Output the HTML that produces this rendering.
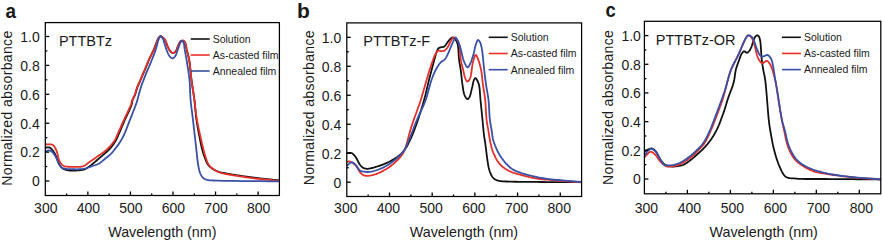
<!DOCTYPE html>
<html><head><meta charset="utf-8"><style>
html,body{margin:0;padding:0;background:#fff;}
body{width:882px;height:241px;overflow:hidden;position:relative;}
svg{position:absolute;left:0;top:0;}
text{font-family:"Liberation Sans", sans-serif;fill:#1a1a1a;}
</style></head><body>
<svg width="882" height="241" viewBox="0 0 882 241">
<clipPath id="clipa"><rect x="45.3" y="22.6" width="234.09999999999997" height="172.9"/></clipPath>
<g clip-path="url(#clipa)" fill="none" stroke-width="1.8" stroke-linejoin="round" stroke-linecap="round">
<path d="M45.30,148.00 L45.57,147.90 L45.85,147.80 L46.12,147.69 L46.39,147.58 L46.66,147.48 L46.94,147.39 L47.22,147.33 L47.50,147.30 L47.80,147.29 L48.11,147.30 L48.42,147.32 L48.74,147.36 L49.06,147.43 L49.37,147.53 L49.69,147.65 L50.00,147.80 L50.43,148.07 L50.87,148.41 L51.31,148.81 L51.75,149.25 L52.18,149.73 L52.60,150.24 L53.01,150.77 L53.40,151.30 L53.85,151.97 L54.28,152.69 L54.70,153.46 L55.10,154.26 L55.49,155.08 L55.87,155.90 L56.24,156.71 L56.60,157.50 L56.93,158.26 L57.23,159.03 L57.53,159.82 L57.81,160.60 L58.09,161.36 L58.38,162.11 L58.68,162.83 L59.00,163.50 L59.28,164.04 L59.55,164.57 L59.83,165.08 L60.12,165.57 L60.42,166.04 L60.73,166.49 L61.05,166.91 L61.40,167.30 L61.72,167.62 L62.05,167.91 L62.39,168.19 L62.75,168.44 L63.11,168.68 L63.49,168.90 L63.89,169.10 L64.30,169.30 L64.79,169.50 L65.29,169.68 L65.81,169.84 L66.35,169.98 L66.91,170.11 L67.49,170.22 L68.08,170.31 L68.70,170.40 L69.53,170.49 L70.42,170.54 L71.36,170.57 L72.32,170.58 L73.28,170.57 L74.23,170.55 L75.14,170.53 L76.00,170.50 L76.67,170.48 L77.33,170.45 L77.97,170.41 L78.60,170.37 L79.21,170.32 L79.81,170.25 L80.41,170.18 L81.00,170.10 L81.53,170.02 L82.05,169.94 L82.56,169.86 L83.06,169.76 L83.56,169.65 L84.05,169.53 L84.53,169.38 L85.00,169.20 L85.46,168.99 L85.91,168.75 L86.34,168.49 L86.77,168.21 L87.20,167.92 L87.63,167.62 L88.06,167.31 L88.50,167.00 L88.99,166.66 L89.47,166.32 L89.96,165.96 L90.44,165.60 L90.94,165.23 L91.44,164.84 L91.96,164.43 L92.50,164.00 L93.22,163.41 L93.98,162.77 L94.77,162.10 L95.57,161.41 L96.38,160.71 L97.18,160.02 L97.95,159.34 L98.70,158.70 L99.33,158.16 L99.94,157.65 L100.54,157.14 L101.13,156.64 L101.72,156.14 L102.31,155.63 L102.90,155.12 L103.50,154.60 L104.14,154.04 L104.79,153.48 L105.45,152.91 L106.10,152.34 L106.75,151.76 L107.39,151.17 L108.01,150.59 L108.60,150.00 L109.13,149.45 L109.64,148.91 L110.14,148.36 L110.63,147.81 L111.11,147.25 L111.58,146.68 L112.04,146.10 L112.50,145.50 L112.98,144.85 L113.46,144.18 L113.94,143.49 L114.40,142.80 L114.86,142.09 L115.29,141.39 L115.71,140.69 L116.10,140.00 L116.43,139.39 L116.72,138.81 L116.99,138.24 L117.24,137.67 L117.50,137.07 L117.77,136.44 L118.07,135.76 L118.40,135.00 L119.05,133.51 L119.78,131.82 L120.56,129.96 L121.39,128.00 L122.24,125.98 L123.11,123.94 L123.97,121.93 L124.80,120.00 L125.67,118.07 L126.60,116.06 L127.56,114.03 L128.51,112.01 L129.42,110.05 L130.25,108.20 L130.95,106.50 L131.50,105.00 L131.72,104.26 L131.88,103.58 L132.00,102.94 L132.09,102.34 L132.18,101.75 L132.29,101.18 L132.42,100.60 L132.60,100.00 L132.84,99.37 L133.12,98.76 L133.42,98.16 L133.75,97.56 L134.07,96.95 L134.40,96.33 L134.71,95.68 L135.00,95.00 L135.31,94.14 L135.60,93.24 L135.87,92.30 L136.13,91.35 L136.40,90.37 L136.67,89.40 L136.97,88.44 L137.30,87.50 L137.67,86.54 L138.08,85.58 L138.50,84.61 L138.94,83.65 L139.38,82.70 L139.81,81.77 L140.22,80.86 L140.60,80.00 L140.89,79.33 L141.16,78.68 L141.42,78.05 L141.68,77.44 L141.93,76.83 L142.18,76.23 L142.44,75.62 L142.70,75.00 L142.97,74.39 L143.23,73.79 L143.49,73.20 L143.76,72.61 L144.03,72.00 L144.31,71.37 L144.60,70.71 L144.90,70.00 L145.34,68.92 L145.81,67.74 L146.29,66.50 L146.79,65.21 L147.31,63.89 L147.83,62.57 L148.36,61.27 L148.90,60.00 L149.47,58.72 L150.08,57.41 L150.71,56.09 L151.34,54.78 L151.97,53.50 L152.56,52.26 L153.11,51.09 L153.60,50.00 L153.90,49.30 L154.17,48.65 L154.42,48.03 L154.65,47.43 L154.88,46.84 L155.11,46.24 L155.35,45.64 L155.60,45.00 L155.88,44.26 L156.16,43.48 L156.44,42.67 L156.72,41.87 L157.02,41.08 L157.32,40.33 L157.65,39.63 L158.00,39.00 L158.28,38.54 L158.58,38.08 L158.88,37.63 L159.19,37.21 L159.51,36.84 L159.83,36.53 L160.17,36.31 L160.50,36.20 L160.80,36.20 L161.12,36.28 L161.44,36.42 L161.77,36.62 L162.09,36.85 L162.41,37.10 L162.71,37.36 L163.00,37.60 L163.28,37.84 L163.55,38.10 L163.81,38.37 L164.05,38.65 L164.29,38.95 L164.53,39.28 L164.76,39.62 L165.00,40.00 L165.33,40.61 L165.65,41.31 L165.96,42.06 L166.26,42.86 L166.56,43.67 L166.87,44.48 L167.18,45.27 L167.50,46.00 L167.80,46.65 L168.09,47.30 L168.38,47.95 L168.67,48.58 L168.98,49.20 L169.30,49.78 L169.64,50.31 L170.00,50.80 L170.32,51.17 L170.65,51.55 L170.99,51.91 L171.35,52.24 L171.71,52.53 L172.08,52.76 L172.44,52.92 L172.80,53.00 L173.14,52.99 L173.48,52.92 L173.83,52.78 L174.18,52.60 L174.53,52.37 L174.86,52.11 L175.19,51.82 L175.50,51.50 L175.94,50.92 L176.35,50.18 L176.74,49.34 L177.11,48.44 L177.46,47.51 L177.81,46.60 L178.15,45.75 L178.50,45.00 L178.75,44.49 L178.99,43.98 L179.22,43.49 L179.44,43.01 L179.68,42.57 L179.93,42.16 L180.20,41.80 L180.50,41.50 L180.77,41.29 L181.06,41.10 L181.36,40.92 L181.68,40.78 L182.00,40.67 L182.31,40.60 L182.61,40.57 L182.90,40.60 L183.19,40.68 L183.47,40.82 L183.75,41.01 L184.02,41.24 L184.29,41.51 L184.54,41.82 L184.78,42.15 L185.00,42.50 L185.32,43.17 L185.59,43.97 L185.82,44.87 L186.01,45.84 L186.20,46.87 L186.38,47.92 L186.58,48.97 L186.80,50.00 L187.09,51.16 L187.39,52.32 L187.70,53.49 L188.02,54.69 L188.33,55.92 L188.64,57.21 L188.93,58.57 L189.20,60.00 L189.54,62.16 L189.85,64.51 L190.13,66.99 L190.39,69.56 L190.65,72.19 L190.91,74.84 L191.19,77.45 L191.50,80.00 L191.84,82.50 L192.20,85.00 L192.58,87.50 L192.96,90.00 L193.34,92.50 L193.72,95.00 L194.07,97.50 L194.40,100.00 L194.68,102.47 L194.93,104.91 L195.14,107.33 L195.35,109.75 L195.58,112.21 L195.83,114.73 L196.13,117.31 L196.50,120.00 L197.07,123.61 L197.74,127.58 L198.48,131.75 L199.27,135.95 L200.08,140.04 L200.87,143.85 L201.62,147.22 L202.30,150.00 L202.60,151.12 L202.89,152.11 L203.16,153.00 L203.43,153.83 L203.71,154.61 L203.99,155.38 L204.28,156.17 L204.60,157.00 L204.93,157.90 L205.26,158.81 L205.60,159.73 L205.94,160.65 L206.31,161.55 L206.71,162.41 L207.13,163.24 L207.60,164.00 L208.05,164.63 L208.51,165.23 L209.00,165.80 L209.52,166.34 L210.05,166.86 L210.61,167.36 L211.19,167.84 L211.80,168.30 L212.48,168.78 L213.20,169.24 L213.95,169.67 L214.72,170.08 L215.52,170.47 L216.33,170.83 L217.16,171.18 L218.00,171.50 L218.91,171.82 L219.83,172.09 L220.75,172.33 L221.70,172.55 L222.69,172.76 L223.73,172.96 L224.83,173.17 L226.00,173.40 L227.97,173.77 L230.16,174.16 L232.51,174.55 L234.97,174.94 L237.47,175.33 L239.97,175.70 L242.40,176.06 L244.70,176.40 L246.67,176.68 L248.59,176.95 L250.47,177.21 L252.33,177.46 L254.19,177.70 L256.08,177.94 L258.01,178.17 L260.00,178.40 L262.31,178.66 L264.69,178.90 L267.10,179.14 L269.55,179.37 L272.02,179.60 L274.50,179.83 L276.96,180.07 L279.40,180.30" stroke="#111111"/>
<path d="M45.30,144.50 L45.76,144.47 L46.22,144.43 L46.68,144.39 L47.15,144.35 L47.61,144.31 L48.07,144.29 L48.53,144.28 L49.00,144.30 L49.49,144.32 L50.00,144.34 L50.50,144.36 L51.01,144.40 L51.51,144.48 L52.00,144.59 L52.46,144.76 L52.90,145.00 L53.40,145.39 L53.86,145.88 L54.30,146.45 L54.71,147.08 L55.11,147.77 L55.48,148.50 L55.85,149.24 L56.20,150.00 L56.62,151.05 L57.00,152.22 L57.34,153.47 L57.66,154.77 L57.97,156.06 L58.29,157.31 L58.63,158.47 L59.00,159.50 L59.28,160.17 L59.55,160.81 L59.83,161.42 L60.11,162.00 L60.40,162.55 L60.71,163.06 L61.04,163.55 L61.40,164.00 L61.72,164.36 L62.04,164.69 L62.38,165.00 L62.73,165.29 L63.09,165.55 L63.48,165.79 L63.88,166.01 L64.30,166.20 L64.81,166.38 L65.35,166.50 L65.91,166.59 L66.50,166.66 L67.10,166.70 L67.72,166.73 L68.36,166.76 L69.00,166.80 L69.81,166.85 L70.66,166.88 L71.55,166.91 L72.45,166.92 L73.35,166.93 L74.26,166.92 L75.14,166.91 L76.00,166.90 L76.78,166.89 L77.58,166.90 L78.36,166.90 L79.14,166.89 L79.90,166.87 L80.64,166.82 L81.34,166.73 L82.00,166.60 L82.49,166.46 L82.96,166.30 L83.41,166.12 L83.84,165.93 L84.25,165.71 L84.67,165.49 L85.08,165.25 L85.50,165.00 L85.95,164.72 L86.39,164.41 L86.83,164.09 L87.26,163.75 L87.70,163.41 L88.13,163.07 L88.56,162.73 L89.00,162.40 L89.43,162.09 L89.85,161.78 L90.27,161.48 L90.69,161.18 L91.12,160.88 L91.56,160.56 L92.02,160.24 L92.50,159.90 L93.17,159.44 L93.88,158.95 L94.62,158.45 L95.39,157.93 L96.17,157.40 L96.95,156.87 L97.73,156.33 L98.50,155.80 L99.30,155.25 L100.11,154.69 L100.93,154.13 L101.76,153.56 L102.57,152.98 L103.37,152.40 L104.15,151.81 L104.90,151.20 L105.59,150.62 L106.25,150.04 L106.90,149.45 L107.54,148.85 L108.16,148.23 L108.78,147.61 L109.39,146.96 L110.00,146.30 L110.65,145.56 L111.32,144.80 L111.98,144.01 L112.63,143.20 L113.26,142.39 L113.85,141.58 L114.40,140.78 L114.90,140.00 L115.26,139.38 L115.56,138.80 L115.83,138.23 L116.08,137.66 L116.32,137.06 L116.58,136.43 L116.87,135.75 L117.20,135.00 L117.87,133.51 L118.63,131.82 L119.45,129.96 L120.33,128.00 L121.23,125.98 L122.13,123.94 L123.03,121.93 L123.90,120.00 L124.79,118.07 L125.73,116.06 L126.69,114.03 L127.64,112.01 L128.56,110.05 L129.40,108.20 L130.14,106.50 L130.75,105.00 L131.02,104.26 L131.24,103.57 L131.42,102.94 L131.59,102.34 L131.74,101.76 L131.90,101.18 L132.08,100.60 L132.30,100.00 L132.55,99.38 L132.83,98.77 L133.12,98.17 L133.42,97.56 L133.73,96.95 L134.03,96.33 L134.32,95.68 L134.60,95.00 L134.91,94.14 L135.21,93.24 L135.49,92.30 L135.77,91.34 L136.06,90.37 L136.35,89.40 L136.66,88.44 L137.00,87.50 L137.38,86.55 L137.78,85.58 L138.21,84.61 L138.65,83.65 L139.08,82.70 L139.51,81.77 L139.92,80.87 L140.30,80.00 L140.59,79.33 L140.86,78.68 L141.12,78.05 L141.38,77.44 L141.63,76.83 L141.88,76.23 L142.14,75.62 L142.40,75.00 L142.67,74.39 L142.93,73.79 L143.19,73.20 L143.46,72.61 L143.73,72.00 L144.01,71.37 L144.30,70.71 L144.60,70.00 L145.05,68.91 L145.52,67.74 L146.02,66.50 L146.53,65.21 L147.05,63.89 L147.59,62.57 L148.14,61.27 L148.70,60.00 L149.30,58.72 L149.95,57.41 L150.62,56.09 L151.29,54.78 L151.96,53.50 L152.59,52.26 L153.18,51.09 L153.70,50.00 L154.02,49.30 L154.31,48.65 L154.57,48.03 L154.83,47.43 L155.07,46.84 L155.31,46.25 L155.55,45.64 L155.80,45.00 L156.07,44.26 L156.33,43.48 L156.58,42.68 L156.83,41.87 L157.09,41.08 L157.37,40.33 L157.67,39.63 L158.00,39.00 L158.28,38.54 L158.57,38.08 L158.87,37.63 L159.18,37.21 L159.50,36.84 L159.83,36.53 L160.16,36.31 L160.50,36.20 L160.80,36.20 L161.12,36.28 L161.44,36.42 L161.77,36.62 L162.09,36.85 L162.41,37.10 L162.71,37.36 L163.00,37.60 L163.28,37.84 L163.55,38.10 L163.81,38.37 L164.05,38.65 L164.29,38.95 L164.53,39.28 L164.76,39.62 L165.00,40.00 L165.33,40.61 L165.65,41.31 L165.96,42.06 L166.26,42.86 L166.56,43.67 L166.87,44.48 L167.18,45.27 L167.50,46.00 L167.80,46.65 L168.09,47.30 L168.38,47.95 L168.67,48.58 L168.98,49.20 L169.30,49.78 L169.64,50.31 L170.00,50.80 L170.32,51.17 L170.65,51.55 L170.99,51.91 L171.35,52.24 L171.71,52.53 L172.08,52.76 L172.44,52.92 L172.80,53.00 L173.14,52.99 L173.48,52.92 L173.83,52.78 L174.18,52.60 L174.53,52.37 L174.86,52.11 L175.19,51.82 L175.50,51.50 L175.94,50.92 L176.35,50.18 L176.74,49.34 L177.11,48.44 L177.46,47.51 L177.81,46.60 L178.15,45.75 L178.50,45.00 L178.75,44.49 L178.99,43.98 L179.22,43.49 L179.44,43.01 L179.68,42.57 L179.93,42.16 L180.20,41.80 L180.50,41.50 L180.77,41.29 L181.06,41.10 L181.36,40.92 L181.68,40.78 L182.00,40.67 L182.31,40.60 L182.61,40.57 L182.90,40.60 L183.19,40.68 L183.47,40.82 L183.75,41.01 L184.02,41.24 L184.29,41.51 L184.54,41.82 L184.78,42.15 L185.00,42.50 L185.32,43.17 L185.59,43.97 L185.82,44.87 L186.01,45.84 L186.20,46.87 L186.38,47.92 L186.58,48.97 L186.80,50.00 L187.09,51.16 L187.39,52.32 L187.70,53.49 L188.02,54.69 L188.33,55.92 L188.64,57.21 L188.93,58.57 L189.20,60.00 L189.54,62.16 L189.85,64.51 L190.13,66.99 L190.39,69.56 L190.65,72.19 L190.91,74.84 L191.19,77.45 L191.50,80.00 L191.84,82.50 L192.19,85.00 L192.56,87.50 L192.93,90.00 L193.31,92.50 L193.68,95.00 L194.05,97.50 L194.40,100.00 L194.72,102.47 L195.01,104.91 L195.29,107.33 L195.56,109.76 L195.86,112.22 L196.18,114.73 L196.56,117.32 L197.00,120.00 L197.67,123.61 L198.47,127.58 L199.35,131.74 L200.28,135.95 L201.21,140.03 L202.10,143.84 L202.91,147.22 L203.60,150.00 L203.88,151.11 L204.13,152.10 L204.37,152.98 L204.59,153.80 L204.82,154.58 L205.06,155.36 L205.31,156.15 L205.60,157.00 L205.93,157.96 L206.26,158.96 L206.60,159.96 L206.96,160.97 L207.34,161.95 L207.76,162.90 L208.21,163.79 L208.70,164.60 L209.16,165.23 L209.64,165.82 L210.15,166.37 L210.68,166.89 L211.23,167.39 L211.80,167.87 L212.39,168.34 L213.00,168.80 L213.68,169.29 L214.38,169.77 L215.11,170.23 L215.86,170.67 L216.63,171.09 L217.41,171.49 L218.20,171.86 L219.00,172.20 L219.81,172.51 L220.61,172.77 L221.41,173.00 L222.23,173.20 L223.08,173.40 L223.99,173.59 L224.95,173.78 L226.00,174.00 L227.91,174.38 L230.08,174.76 L232.43,175.15 L234.90,175.54 L237.42,175.93 L239.94,176.31 L242.39,176.66 L244.70,177.00 L246.67,177.28 L248.59,177.56 L250.47,177.82 L252.33,178.07 L254.19,178.31 L256.08,178.54 L258.01,178.77 L260.00,179.00 L262.31,179.25 L264.69,179.48 L267.10,179.71 L269.55,179.93 L272.02,180.15 L274.50,180.36 L276.96,180.58 L279.40,180.80" stroke="#e6302a"/>
<path d="M45.30,152.00 L45.69,151.77 L46.07,151.51 L46.46,151.24 L46.85,150.97 L47.24,150.73 L47.62,150.52 L48.01,150.38 L48.40,150.30 L48.76,150.29 L49.13,150.34 L49.50,150.42 L49.87,150.54 L50.23,150.69 L50.59,150.87 L50.95,151.08 L51.30,151.30 L51.74,151.63 L52.17,152.01 L52.61,152.45 L53.03,152.92 L53.44,153.42 L53.84,153.94 L54.23,154.47 L54.60,155.00 L54.97,155.57 L55.33,156.18 L55.67,156.81 L56.00,157.45 L56.31,158.10 L56.62,158.74 L56.91,159.38 L57.20,160.00 L57.44,160.56 L57.67,161.12 L57.88,161.68 L58.08,162.23 L58.28,162.77 L58.50,163.30 L58.74,163.81 L59.00,164.30 L59.26,164.73 L59.53,165.15 L59.81,165.56 L60.10,165.96 L60.41,166.33 L60.72,166.69 L61.06,167.01 L61.40,167.30 L61.72,167.53 L62.04,167.74 L62.37,167.92 L62.71,168.08 L63.07,168.22 L63.45,168.36 L63.86,168.48 L64.30,168.60 L65.08,168.76 L65.95,168.89 L66.90,168.98 L67.90,169.05 L68.93,169.09 L69.97,169.13 L71.00,169.17 L72.00,169.20 L73.01,169.23 L74.05,169.26 L75.11,169.27 L76.16,169.28 L77.19,169.28 L78.19,169.26 L79.13,169.24 L80.00,169.20 L80.57,169.17 L81.10,169.14 L81.60,169.11 L82.09,169.07 L82.57,169.02 L83.04,168.96 L83.51,168.89 L84.00,168.80 L84.50,168.69 L85.00,168.56 L85.50,168.42 L85.99,168.27 L86.49,168.11 L86.99,167.94 L87.49,167.77 L88.00,167.60 L88.55,167.42 L89.09,167.23 L89.64,167.04 L90.19,166.84 L90.75,166.64 L91.32,166.43 L91.90,166.22 L92.50,166.00 L93.23,165.75 L93.99,165.50 L94.77,165.26 L95.57,165.01 L96.36,164.73 L97.16,164.43 L97.94,164.09 L98.70,163.70 L99.51,163.21 L100.32,162.65 L101.11,162.05 L101.90,161.42 L102.67,160.76 L103.45,160.10 L104.23,159.44 L105.00,158.80 L105.78,158.18 L106.57,157.56 L107.36,156.93 L108.15,156.31 L108.93,155.67 L109.68,155.03 L110.41,154.37 L111.10,153.70 L111.71,153.06 L112.29,152.40 L112.85,151.74 L113.39,151.06 L113.92,150.38 L114.44,149.69 L114.97,149.00 L115.50,148.30 L116.06,147.58 L116.62,146.85 L117.19,146.12 L117.75,145.38 L118.30,144.63 L118.85,143.87 L119.38,143.09 L119.90,142.30 L120.43,141.45 L120.94,140.61 L121.44,139.76 L121.93,138.89 L122.41,137.99 L122.90,137.05 L123.39,136.06 L123.90,135.00 L124.63,133.39 L125.37,131.65 L126.12,129.79 L126.88,127.85 L127.64,125.87 L128.40,123.88 L129.15,121.91 L129.90,120.00 L130.66,118.07 L131.46,116.07 L132.27,114.03 L133.07,112.00 L133.84,110.04 L134.56,108.19 L135.20,106.49 L135.75,105.00 L136.02,104.26 L136.25,103.60 L136.46,102.99 L136.65,102.41 L136.83,101.85 L137.01,101.28 L137.20,100.67 L137.40,100.00 L137.66,99.09 L137.92,98.12 L138.18,97.12 L138.44,96.08 L138.70,95.04 L138.96,94.01 L139.23,92.99 L139.50,92.00 L139.75,91.09 L140.01,90.18 L140.27,89.28 L140.53,88.39 L140.79,87.51 L141.05,86.65 L141.32,85.81 L141.60,85.00 L141.84,84.33 L142.09,83.68 L142.34,83.06 L142.59,82.44 L142.85,81.84 L143.10,81.23 L143.35,80.62 L143.60,80.00 L143.84,79.38 L144.08,78.75 L144.31,78.12 L144.54,77.50 L144.78,76.87 L145.01,76.25 L145.25,75.62 L145.50,75.00 L145.75,74.39 L145.99,73.79 L146.24,73.20 L146.49,72.61 L146.75,72.00 L147.02,71.37 L147.30,70.71 L147.60,70.00 L148.06,68.91 L148.56,67.74 L149.09,66.50 L149.63,65.22 L150.19,63.91 L150.74,62.59 L151.28,61.28 L151.80,60.00 L152.31,58.73 L152.83,57.43 L153.34,56.11 L153.86,54.80 L154.35,53.51 L154.81,52.27 L155.23,51.09 L155.60,50.00 L155.82,49.30 L156.02,48.65 L156.19,48.03 L156.35,47.43 L156.50,46.84 L156.66,46.24 L156.82,45.64 L157.00,45.00 L157.20,44.26 L157.40,43.47 L157.61,42.67 L157.81,41.86 L158.03,41.07 L158.26,40.32 L158.52,39.62 L158.80,39.00 L159.02,38.57 L159.26,38.13 L159.50,37.70 L159.76,37.30 L160.01,36.95 L160.28,36.67 L160.54,36.48 L160.80,36.40 L161.05,36.44 L161.30,36.58 L161.56,36.80 L161.83,37.08 L162.08,37.40 L162.33,37.76 L162.57,38.13 L162.80,38.50 L163.10,39.08 L163.38,39.75 L163.63,40.49 L163.86,41.27 L164.09,42.08 L164.32,42.90 L164.55,43.72 L164.80,44.50 L165.07,45.31 L165.33,46.13 L165.59,46.96 L165.86,47.80 L166.13,48.63 L166.41,49.44 L166.70,50.23 L167.00,51.00 L167.28,51.68 L167.57,52.36 L167.85,53.04 L168.15,53.70 L168.46,54.34 L168.79,54.94 L169.13,55.49 L169.50,56.00 L169.82,56.39 L170.15,56.78 L170.50,57.16 L170.85,57.52 L171.22,57.82 L171.58,58.06 L171.94,58.23 L172.30,58.30 L172.64,58.28 L172.99,58.18 L173.34,58.01 L173.69,57.78 L174.03,57.51 L174.37,57.20 L174.69,56.86 L175.00,56.50 L175.45,55.83 L175.87,55.00 L176.27,54.06 L176.64,53.04 L176.99,51.98 L177.34,50.93 L177.67,49.92 L178.00,49.00 L178.27,48.26 L178.52,47.52 L178.77,46.78 L179.00,46.06 L179.24,45.37 L179.48,44.70 L179.73,44.08 L180.00,43.50 L180.21,43.07 L180.43,42.62 L180.65,42.18 L180.87,41.76 L181.10,41.39 L181.33,41.09 L181.56,40.89 L181.80,40.80 L182.01,40.82 L182.23,40.92 L182.46,41.09 L182.68,41.30 L182.91,41.57 L183.12,41.86 L183.32,42.18 L183.50,42.50 L183.77,43.16 L183.97,43.95 L184.14,44.85 L184.27,45.82 L184.39,46.86 L184.51,47.92 L184.64,48.97 L184.80,50.00 L185.01,51.16 L185.22,52.32 L185.44,53.49 L185.67,54.69 L185.90,55.93 L186.13,57.22 L186.36,58.57 L186.60,60.00 L186.95,62.17 L187.34,64.51 L187.74,66.99 L188.14,69.56 L188.53,72.19 L188.89,74.83 L189.22,77.45 L189.50,80.00 L189.71,82.50 L189.87,85.00 L189.99,87.50 L190.08,90.00 L190.17,92.50 L190.28,95.00 L190.41,97.50 L190.60,100.00 L190.84,102.48 L191.10,104.91 L191.39,107.33 L191.70,109.75 L192.02,112.21 L192.35,114.72 L192.67,117.31 L193.00,120.00 L193.41,123.53 L193.84,127.31 L194.28,131.26 L194.73,135.26 L195.18,139.24 L195.61,143.08 L196.02,146.70 L196.40,150.00 L196.64,152.15 L196.86,154.21 L197.06,156.19 L197.26,158.09 L197.47,159.92 L197.69,161.68 L197.93,163.37 L198.20,165.00 L198.42,166.20 L198.63,167.37 L198.85,168.50 L199.08,169.59 L199.33,170.64 L199.61,171.64 L199.93,172.60 L200.30,173.50 L200.62,174.20 L200.97,174.88 L201.33,175.53 L201.71,176.15 L202.12,176.73 L202.55,177.27 L203.01,177.76 L203.50,178.20 L203.97,178.55 L204.47,178.84 L204.99,179.10 L205.53,179.33 L206.09,179.52 L206.65,179.70 L207.22,179.85 L207.80,180.00 L208.38,180.13 L208.92,180.23 L209.44,180.30 L209.99,180.35 L210.59,180.38 L211.27,180.42 L212.06,180.45 L213.00,180.50 L217.72,180.68 L224.34,180.82 L232.42,180.94 L241.53,181.04 L251.21,181.12 L261.05,181.21 L270.59,181.30 L279.40,181.40" stroke="#3850a6"/>
</g>
<rect x="45.3" y="22.6" width="234.10" height="172.90" fill="none" stroke="#000" stroke-width="1.25"/>
<line x1="66.58" y1="195.5" x2="66.58" y2="193.5" stroke="#000" stroke-width="1.3"/>
<line x1="87.86" y1="195.5" x2="87.86" y2="191.5" stroke="#000" stroke-width="1.3"/>
<line x1="109.15" y1="195.5" x2="109.15" y2="193.5" stroke="#000" stroke-width="1.3"/>
<line x1="130.43" y1="195.5" x2="130.43" y2="191.5" stroke="#000" stroke-width="1.3"/>
<line x1="151.71" y1="195.5" x2="151.71" y2="193.5" stroke="#000" stroke-width="1.3"/>
<line x1="172.99" y1="195.5" x2="172.99" y2="191.5" stroke="#000" stroke-width="1.3"/>
<line x1="194.27" y1="195.5" x2="194.27" y2="193.5" stroke="#000" stroke-width="1.3"/>
<line x1="215.55" y1="195.5" x2="215.55" y2="191.5" stroke="#000" stroke-width="1.3"/>
<line x1="236.84" y1="195.5" x2="236.84" y2="193.5" stroke="#000" stroke-width="1.3"/>
<line x1="258.12" y1="195.5" x2="258.12" y2="191.5" stroke="#000" stroke-width="1.3"/>
<line x1="45.3" y1="181.00" x2="49.3" y2="181.00" stroke="#000" stroke-width="1.3"/>
<line x1="45.3" y1="166.55" x2="47.3" y2="166.55" stroke="#000" stroke-width="1.3"/>
<line x1="45.3" y1="152.10" x2="49.3" y2="152.10" stroke="#000" stroke-width="1.3"/>
<line x1="45.3" y1="137.65" x2="47.3" y2="137.65" stroke="#000" stroke-width="1.3"/>
<line x1="45.3" y1="123.20" x2="49.3" y2="123.20" stroke="#000" stroke-width="1.3"/>
<line x1="45.3" y1="108.75" x2="47.3" y2="108.75" stroke="#000" stroke-width="1.3"/>
<line x1="45.3" y1="94.30" x2="49.3" y2="94.30" stroke="#000" stroke-width="1.3"/>
<line x1="45.3" y1="79.85" x2="47.3" y2="79.85" stroke="#000" stroke-width="1.3"/>
<line x1="45.3" y1="65.40" x2="49.3" y2="65.40" stroke="#000" stroke-width="1.3"/>
<line x1="45.3" y1="50.95" x2="47.3" y2="50.95" stroke="#000" stroke-width="1.3"/>
<line x1="45.3" y1="36.50" x2="49.3" y2="36.50" stroke="#000" stroke-width="1.3"/>
<text x="45.80" y="212.6" text-anchor="middle" font-size="14">300</text>
<text x="88.36" y="212.6" text-anchor="middle" font-size="14">400</text>
<text x="130.93" y="212.6" text-anchor="middle" font-size="14">500</text>
<text x="173.49" y="212.6" text-anchor="middle" font-size="14">600</text>
<text x="216.05" y="212.6" text-anchor="middle" font-size="14">700</text>
<text x="258.62" y="212.6" text-anchor="middle" font-size="14">800</text>
<text x="39.80" y="186.30" text-anchor="end" font-size="14">0</text>
<text x="39.80" y="157.40" text-anchor="end" font-size="14">0.2</text>
<text x="39.80" y="128.50" text-anchor="end" font-size="14">0.4</text>
<text x="39.80" y="99.60" text-anchor="end" font-size="14">0.6</text>
<text x="39.80" y="70.70" text-anchor="end" font-size="14">0.8</text>
<text x="39.80" y="41.80" text-anchor="end" font-size="14">1.0</text>
<text x="162.35" y="237.2" text-anchor="middle" font-size="14.3">Wavelength (nm)</text>
<text transform="translate(11.80,108.05) rotate(-90)" text-anchor="middle" font-size="14" letter-spacing="0.35">Normalized absorbance</text>
<text transform="translate(5.5,17.6) scale(0.9,1)" font-size="21" font-weight="bold">a</text>
<text x="58.9" y="46.4" font-size="14.5">PTTBTz</text>
<line x1="190.70" y1="39.00" x2="209.70" y2="39.00" stroke="#111111" stroke-width="1.6"/>
<text x="212.70" y="42.80" font-size="10.5">Solution</text>
<line x1="190.70" y1="55.00" x2="209.70" y2="55.00" stroke="#e6302a" stroke-width="1.6"/>
<text x="212.70" y="58.80" font-size="10.5">As-casted film</text>
<line x1="190.70" y1="71.00" x2="209.70" y2="71.00" stroke="#3850a6" stroke-width="1.6"/>
<text x="212.70" y="74.80" font-size="10.5">Annealed film</text>
<clipPath id="clipb"><rect x="346.8" y="22.9" width="234.8" height="173.6"/></clipPath>
<g clip-path="url(#clipb)" fill="none" stroke-width="1.8" stroke-linejoin="round" stroke-linecap="round">
<path d="M346.80,153.20 L347.39,153.15 L348.00,153.06 L348.60,152.97 L349.21,152.87 L349.81,152.81 L350.39,152.79 L350.96,152.85 L351.50,153.00 L352.07,153.28 L352.62,153.64 L353.15,154.09 L353.66,154.60 L354.16,155.17 L354.64,155.76 L355.12,156.38 L355.60,157.00 L356.17,157.82 L356.71,158.76 L357.23,159.76 L357.74,160.79 L358.25,161.82 L358.75,162.81 L359.27,163.71 L359.80,164.50 L360.19,165.00 L360.57,165.48 L360.95,165.93 L361.33,166.35 L361.72,166.74 L362.13,167.09 L362.55,167.41 L363.00,167.70 L363.45,167.94 L363.92,168.15 L364.41,168.33 L364.91,168.48 L365.42,168.60 L365.94,168.69 L366.47,168.76 L367.00,168.80 L367.60,168.81 L368.21,168.76 L368.83,168.68 L369.46,168.57 L370.10,168.44 L370.73,168.29 L371.37,168.15 L372.00,168.00 L372.64,167.85 L373.25,167.70 L373.86,167.54 L374.48,167.37 L375.11,167.18 L375.76,166.97 L376.46,166.75 L377.20,166.50 L378.45,166.08 L379.82,165.61 L381.28,165.09 L382.81,164.54 L384.36,163.95 L385.89,163.32 L387.39,162.67 L388.80,162.00 L390.12,161.32 L391.44,160.60 L392.75,159.84 L394.03,159.06 L395.28,158.26 L396.48,157.45 L397.63,156.62 L398.70,155.80 L399.54,155.12 L400.33,154.46 L401.07,153.80 L401.78,153.13 L402.47,152.42 L403.15,151.68 L403.82,150.88 L404.50,150.00 L405.37,148.76 L406.22,147.43 L407.05,146.00 L407.86,144.50 L408.66,142.93 L409.45,141.32 L410.23,139.67 L411.00,138.00 L411.91,135.95 L412.81,133.81 L413.69,131.60 L414.56,129.33 L415.42,127.01 L416.26,124.68 L417.09,122.33 L417.90,120.00 L418.73,117.56 L419.55,115.09 L420.35,112.60 L421.14,110.09 L421.91,107.57 L422.66,105.04 L423.39,102.52 L424.10,100.00 L424.78,97.46 L425.45,94.85 L426.09,92.21 L426.72,89.58 L427.32,87.00 L427.91,84.52 L428.46,82.17 L429.00,80.00 L429.36,78.58 L429.70,77.26 L430.02,76.00 L430.34,74.78 L430.65,73.60 L430.96,72.42 L431.28,71.23 L431.60,70.00 L431.93,68.74 L432.27,67.48 L432.61,66.21 L432.94,64.95 L433.28,63.69 L433.62,62.44 L433.96,61.21 L434.30,60.00 L434.61,58.87 L434.92,57.73 L435.22,56.58 L435.53,55.45 L435.84,54.35 L436.15,53.32 L436.47,52.36 L436.80,51.50 L437.01,50.99 L437.21,50.50 L437.40,50.03 L437.60,49.60 L437.81,49.19 L438.04,48.82 L438.30,48.49 L438.60,48.20 L438.91,47.98 L439.24,47.81 L439.60,47.67 L439.98,47.56 L440.37,47.47 L440.75,47.38 L441.13,47.29 L441.50,47.20 L441.83,47.12 L442.16,47.08 L442.48,47.05 L442.80,47.01 L443.12,46.97 L443.45,46.89 L443.77,46.78 L444.10,46.60 L444.65,46.16 L445.21,45.55 L445.78,44.83 L446.36,44.02 L446.92,43.19 L447.47,42.38 L448.00,41.64 L448.50,41.00 L448.84,40.60 L449.17,40.20 L449.50,39.83 L449.81,39.47 L450.12,39.13 L450.42,38.82 L450.71,38.54 L451.00,38.30 L451.18,38.15 L451.36,38.01 L451.53,37.88 L451.69,37.76 L451.86,37.66 L452.03,37.58 L452.21,37.52 L452.40,37.50 L452.64,37.51 L452.90,37.56 L453.16,37.65 L453.43,37.76 L453.71,37.91 L453.98,38.08 L454.24,38.28 L454.50,38.50 L454.89,38.89 L455.29,39.34 L455.68,39.85 L456.07,40.43 L456.43,41.07 L456.78,41.76 L457.11,42.50 L457.40,43.30 L457.81,44.91 L458.11,46.83 L458.33,48.97 L458.49,51.25 L458.62,53.59 L458.75,55.88 L458.90,58.05 L459.10,60.00 L459.29,61.36 L459.49,62.64 L459.69,63.85 L459.89,65.04 L460.10,66.22 L460.30,67.42 L460.50,68.67 L460.70,70.00 L460.93,71.74 L461.15,73.58 L461.36,75.50 L461.57,77.45 L461.78,79.40 L462.01,81.31 L462.24,83.16 L462.50,84.90 L462.71,86.29 L462.91,87.68 L463.10,89.06 L463.31,90.39 L463.54,91.67 L463.81,92.87 L464.13,93.99 L464.50,95.00 L464.80,95.68 L465.14,96.38 L465.51,97.05 L465.88,97.68 L466.27,98.23 L466.66,98.67 L467.04,98.97 L467.40,99.10 L467.67,99.07 L467.94,98.95 L468.22,98.74 L468.49,98.47 L468.75,98.15 L469.01,97.78 L469.26,97.40 L469.50,97.00 L469.89,96.19 L470.24,95.21 L470.57,94.10 L470.87,92.89 L471.16,91.63 L471.44,90.37 L471.72,89.15 L472.00,88.00 L472.26,86.94 L472.50,85.83 L472.73,84.71 L472.96,83.61 L473.19,82.55 L473.44,81.58 L473.70,80.72 L474.00,80.00 L474.17,79.65 L474.35,79.32 L474.54,79.00 L474.73,78.71 L474.92,78.46 L475.12,78.27 L475.31,78.14 L475.50,78.10 L475.69,78.15 L475.88,78.28 L476.07,78.48 L476.26,78.74 L476.45,79.04 L476.63,79.35 L476.82,79.68 L477.00,80.00 L477.27,80.48 L477.54,81.00 L477.81,81.55 L478.07,82.15 L478.32,82.79 L478.56,83.48 L478.79,84.22 L479.00,85.00 L479.30,86.46 L479.53,88.12 L479.72,89.92 L479.88,91.85 L480.02,93.85 L480.16,95.90 L480.32,97.97 L480.50,100.00 L480.74,102.38 L480.99,104.87 L481.24,107.42 L481.50,110.00 L481.76,112.58 L482.01,115.13 L482.26,117.62 L482.50,120.00 L482.70,122.00 L482.88,123.97 L483.06,125.92 L483.24,127.83 L483.42,129.69 L483.60,131.52 L483.80,133.29 L484.00,135.00 L484.18,136.33 L484.36,137.60 L484.54,138.81 L484.73,140.00 L484.92,141.19 L485.12,142.40 L485.31,143.67 L485.50,145.00 L485.73,146.76 L485.97,148.64 L486.20,150.59 L486.44,152.58 L486.68,154.55 L486.92,156.48 L487.16,158.31 L487.40,160.00 L487.58,161.19 L487.75,162.34 L487.92,163.45 L488.09,164.53 L488.27,165.56 L488.46,166.57 L488.67,167.55 L488.90,168.50 L489.10,169.26 L489.32,170.00 L489.54,170.72 L489.77,171.42 L490.01,172.10 L490.26,172.75 L490.52,173.39 L490.80,174.00 L491.04,174.51 L491.30,175.00 L491.55,175.48 L491.82,175.95 L492.10,176.40 L492.39,176.82 L492.69,177.22 L493.00,177.60 L493.28,177.91 L493.57,178.19 L493.87,178.46 L494.17,178.72 L494.49,178.96 L494.81,179.18 L495.15,179.40 L495.50,179.60 L495.89,179.80 L496.30,179.98 L496.72,180.15 L497.15,180.30 L497.60,180.44 L498.05,180.57 L498.52,180.69 L499.00,180.80 L499.55,180.92 L500.09,181.02 L500.63,181.10 L501.19,181.17 L501.79,181.23 L502.45,181.29 L503.18,181.34 L504.00,181.40 L506.22,181.52 L508.86,181.61 L511.87,181.69 L515.18,181.74 L518.71,181.78 L522.40,181.82 L526.19,181.86 L530.00,181.90 L535.61,181.96 L541.67,182.01 L548.07,182.05 L554.71,182.08 L561.48,182.11 L568.29,182.14 L575.03,182.17 L581.60,182.20" stroke="#111111"/>
<path d="M346.80,161.80 L347.17,161.75 L347.53,161.67 L347.90,161.59 L348.26,161.51 L348.63,161.45 L349.00,161.42 L349.39,161.43 L349.80,161.50 L350.46,161.71 L351.18,162.03 L351.92,162.43 L352.69,162.91 L353.46,163.45 L354.21,164.04 L354.93,164.66 L355.60,165.30 L356.31,166.13 L356.97,167.09 L357.60,168.15 L358.21,169.25 L358.80,170.33 L359.38,171.35 L359.98,172.26 L360.60,173.00 L361.02,173.41 L361.43,173.78 L361.84,174.11 L362.26,174.41 L362.68,174.67 L363.10,174.91 L363.54,175.11 L364.00,175.30 L364.46,175.46 L364.92,175.59 L365.38,175.68 L365.86,175.76 L366.36,175.80 L366.87,175.82 L367.42,175.82 L368.00,175.80 L368.97,175.72 L370.02,175.57 L371.15,175.36 L372.33,175.10 L373.54,174.79 L374.77,174.43 L376.00,174.03 L377.20,173.60 L378.62,173.03 L380.08,172.38 L381.56,171.67 L383.05,170.89 L384.54,170.07 L386.00,169.21 L387.43,168.32 L388.80,167.40 L390.14,166.44 L391.48,165.42 L392.80,164.36 L394.09,163.26 L395.34,162.15 L396.53,161.02 L397.66,159.90 L398.70,158.80 L399.50,157.93 L400.23,157.10 L400.92,156.29 L401.58,155.47 L402.20,154.60 L402.80,153.67 L403.40,152.65 L404.00,151.50 L404.93,149.34 L405.81,146.79 L406.66,143.97 L407.47,141.00 L408.24,138.00 L408.99,135.09 L409.71,132.38 L410.40,130.00 L410.85,128.59 L411.25,127.31 L411.64,126.12 L412.02,124.97 L412.40,123.83 L412.80,122.65 L413.23,121.39 L413.70,120.00 L414.48,117.78 L415.36,115.32 L416.31,112.70 L417.29,110.00 L418.27,107.31 L419.20,104.69 L420.06,102.22 L420.80,100.00 L421.24,98.59 L421.65,97.27 L422.01,96.01 L422.36,94.79 L422.69,93.60 L423.02,92.42 L423.35,91.23 L423.70,90.00 L424.06,88.75 L424.42,87.50 L424.78,86.25 L425.14,85.00 L425.51,83.75 L425.87,82.50 L426.23,81.25 L426.60,80.00 L426.97,78.75 L427.33,77.50 L427.70,76.25 L428.07,75.00 L428.44,73.75 L428.82,72.50 L429.21,71.25 L429.60,70.00 L430.01,68.73 L430.43,67.43 L430.86,66.12 L431.30,64.82 L431.73,63.54 L432.16,62.30 L432.59,61.12 L433.00,60.00 L433.30,59.18 L433.58,58.39 L433.86,57.63 L434.13,56.89 L434.42,56.17 L434.72,55.49 L435.04,54.83 L435.40,54.20 L435.74,53.65 L436.10,53.09 L436.48,52.53 L436.87,52.01 L437.27,51.53 L437.68,51.12 L438.09,50.80 L438.50,50.60 L438.80,50.54 L439.11,50.55 L439.42,50.62 L439.73,50.73 L440.05,50.85 L440.36,50.96 L440.68,51.05 L441.00,51.10 L441.33,51.12 L441.67,51.14 L442.00,51.16 L442.34,51.16 L442.68,51.14 L443.02,51.10 L443.36,51.02 L443.70,50.90 L444.15,50.68 L444.62,50.40 L445.08,50.06 L445.55,49.67 L446.01,49.25 L446.45,48.79 L446.89,48.30 L447.30,47.80 L447.78,47.11 L448.23,46.31 L448.66,45.45 L449.07,44.56 L449.47,43.65 L449.87,42.77 L450.28,41.94 L450.70,41.20 L451.04,40.63 L451.38,40.05 L451.72,39.46 L452.06,38.91 L452.41,38.41 L452.76,37.99 L453.12,37.68 L453.50,37.50 L453.80,37.45 L454.11,37.47 L454.43,37.55 L454.75,37.68 L455.07,37.84 L455.39,38.04 L455.70,38.26 L456.00,38.50 L456.42,38.89 L456.84,39.34 L457.24,39.85 L457.64,40.43 L458.01,41.06 L458.37,41.75 L458.70,42.50 L459.00,43.30 L459.42,44.91 L459.72,46.83 L459.92,48.97 L460.08,51.26 L460.21,53.59 L460.35,55.88 L460.54,58.05 L460.80,60.00 L461.06,61.39 L461.35,62.72 L461.65,64.01 L461.97,65.26 L462.29,66.47 L462.60,67.66 L462.91,68.84 L463.20,70.00 L463.43,71.01 L463.63,72.01 L463.83,73.01 L464.03,73.98 L464.23,74.93 L464.45,75.84 L464.71,76.70 L465.00,77.50 L465.26,78.13 L465.53,78.79 L465.82,79.45 L466.12,80.07 L466.43,80.62 L466.75,81.07 L467.07,81.37 L467.40,81.50 L467.71,81.45 L468.04,81.28 L468.38,80.99 L468.72,80.61 L469.06,80.15 L469.39,79.63 L469.71,79.08 L470.00,78.50 L470.52,77.05 L470.94,75.19 L471.30,73.02 L471.62,70.67 L471.92,68.28 L472.24,65.95 L472.59,63.82 L473.00,62.00 L473.31,60.86 L473.63,59.68 L473.96,58.50 L474.30,57.39 L474.65,56.41 L474.99,55.63 L475.35,55.11 L475.70,54.90 L475.98,54.99 L476.27,55.27 L476.56,55.71 L476.86,56.27 L477.15,56.92 L477.44,57.61 L477.72,58.32 L478.00,59.00 L478.43,60.09 L478.85,61.31 L479.27,62.63 L479.67,64.03 L480.06,65.49 L480.43,66.98 L480.78,68.50 L481.10,70.00 L481.42,71.75 L481.69,73.57 L481.93,75.44 L482.14,77.34 L482.34,79.27 L482.55,81.19 L482.76,83.11 L483.00,85.00 L483.27,86.86 L483.55,88.70 L483.84,90.53 L484.14,92.36 L484.43,94.21 L484.71,96.09 L484.97,98.02 L485.20,100.00 L485.42,102.41 L485.61,104.96 L485.76,107.59 L485.90,110.25 L486.04,112.88 L486.20,115.42 L486.38,117.81 L486.60,120.00 L486.79,121.42 L486.99,122.75 L487.20,124.01 L487.42,125.22 L487.64,126.40 L487.87,127.58 L488.09,128.77 L488.30,130.00 L488.50,131.25 L488.69,132.50 L488.87,133.75 L489.06,135.00 L489.25,136.26 L489.45,137.51 L489.66,138.75 L489.90,140.00 L490.16,141.27 L490.42,142.56 L490.70,143.86 L490.99,145.15 L491.30,146.43 L491.62,147.67 L491.95,148.86 L492.30,150.00 L492.60,150.90 L492.92,151.76 L493.24,152.59 L493.58,153.40 L493.92,154.19 L494.27,154.97 L494.63,155.74 L495.00,156.50 L495.35,157.20 L495.69,157.89 L496.05,158.57 L496.41,159.24 L496.78,159.90 L497.17,160.55 L497.57,161.18 L498.00,161.80 L498.44,162.41 L498.90,163.00 L499.38,163.58 L499.87,164.16 L500.38,164.71 L500.90,165.26 L501.44,165.79 L502.00,166.30 L502.60,166.82 L503.23,167.32 L503.88,167.81 L504.55,168.28 L505.22,168.73 L505.91,169.17 L506.61,169.60 L507.30,170.00 L507.98,170.38 L508.67,170.74 L509.37,171.08 L510.07,171.41 L510.79,171.72 L511.51,172.02 L512.25,172.32 L513.00,172.60 L513.81,172.89 L514.62,173.15 L515.43,173.39 L516.26,173.63 L517.12,173.86 L518.02,174.09 L518.98,174.34 L520.00,174.60 L521.67,175.04 L523.50,175.53 L525.45,176.04 L527.50,176.56 L529.60,177.08 L531.74,177.57 L533.88,178.01 L536.00,178.40 L538.25,178.75 L540.50,179.04 L542.78,179.29 L545.08,179.50 L547.43,179.70 L549.82,179.89 L552.28,180.09 L554.80,180.30 L557.92,180.56 L561.17,180.82 L564.50,181.07 L567.90,181.32 L571.34,181.56 L574.79,181.81 L578.22,182.05 L581.60,182.30" stroke="#e6302a"/>
<path d="M346.80,165.70 L347.43,165.23 L348.07,164.69 L348.71,164.13 L349.34,163.57 L349.98,163.08 L350.60,162.67 L351.21,162.40 L351.80,162.30 L352.30,162.36 L352.79,162.54 L353.26,162.82 L353.73,163.16 L354.20,163.57 L354.66,164.00 L355.13,164.45 L355.60,164.90 L356.22,165.56 L356.84,166.36 L357.47,167.24 L358.09,168.15 L358.71,169.04 L359.34,169.84 L359.97,170.52 L360.60,171.00 L361.02,171.21 L361.44,171.35 L361.86,171.44 L362.28,171.48 L362.70,171.51 L363.13,171.53 L363.56,171.55 L364.00,171.60 L364.47,171.67 L364.94,171.75 L365.40,171.83 L365.88,171.90 L366.37,171.96 L366.88,172.00 L367.42,172.02 L368.00,172.00 L368.97,171.92 L370.02,171.78 L371.15,171.59 L372.33,171.36 L373.54,171.08 L374.77,170.75 L375.99,170.39 L377.20,170.00 L378.62,169.48 L380.07,168.90 L381.56,168.26 L383.04,167.57 L384.53,166.83 L385.99,166.05 L387.42,165.24 L388.80,164.40 L390.14,163.52 L391.47,162.58 L392.79,161.59 L394.07,160.57 L395.32,159.53 L396.51,158.49 L397.64,157.48 L398.70,156.50 L399.48,155.77 L400.21,155.06 L400.90,154.38 L401.56,153.69 L402.19,152.99 L402.80,152.25 L403.40,151.46 L404.00,150.60 L404.70,149.48 L405.34,148.30 L405.96,147.06 L406.55,145.76 L407.14,144.40 L407.74,142.99 L408.35,141.52 L409.00,140.00 L409.92,137.81 L410.86,135.45 L411.83,132.97 L412.82,130.40 L413.82,127.77 L414.84,125.14 L415.86,122.54 L416.90,120.00 L418.00,117.45 L419.17,114.84 L420.38,112.20 L421.59,109.58 L422.76,107.02 L423.86,104.54 L424.85,102.19 L425.70,100.00 L426.19,98.60 L426.61,97.28 L426.98,96.02 L427.31,94.81 L427.63,93.61 L427.94,92.43 L428.26,91.23 L428.60,90.00 L428.95,88.75 L429.30,87.50 L429.63,86.24 L429.97,84.99 L430.32,83.74 L430.69,82.49 L431.08,81.24 L431.50,80.00 L431.96,78.73 L432.43,77.44 L432.93,76.15 L433.44,74.87 L433.98,73.61 L434.53,72.37 L435.11,71.16 L435.70,70.00 L436.26,68.96 L436.84,67.93 L437.44,66.91 L438.05,65.91 L438.67,64.96 L439.31,64.07 L439.95,63.24 L440.60,62.50 L441.10,62.02 L441.63,61.61 L442.17,61.25 L442.70,60.91 L443.24,60.58 L443.75,60.24 L444.24,59.85 L444.70,59.40 L445.16,58.85 L445.59,58.25 L445.99,57.62 L446.38,56.96 L446.74,56.28 L447.10,55.59 L447.45,54.89 L447.80,54.20 L448.16,53.45 L448.51,52.68 L448.84,51.89 L449.17,51.08 L449.48,50.28 L449.79,49.50 L450.10,48.73 L450.40,48.00 L450.65,47.40 L450.90,46.81 L451.14,46.23 L451.37,45.66 L451.60,45.10 L451.84,44.56 L452.07,44.02 L452.30,43.50 L452.50,43.06 L452.70,42.63 L452.90,42.20 L453.09,41.79 L453.29,41.38 L453.49,40.98 L453.69,40.59 L453.90,40.20 L454.09,39.81 L454.29,39.38 L454.48,38.93 L454.68,38.50 L454.88,38.11 L455.08,37.79 L455.29,37.58 L455.50,37.50 L455.74,37.57 L455.98,37.79 L456.23,38.12 L456.49,38.54 L456.75,39.01 L457.00,39.52 L457.25,40.02 L457.50,40.50 L457.82,41.13 L458.14,41.79 L458.45,42.49 L458.76,43.22 L459.06,44.00 L459.37,44.82 L459.68,45.68 L460.00,46.60 L460.49,48.20 L460.97,50.05 L461.45,52.06 L461.94,54.15 L462.44,56.23 L462.96,58.23 L463.51,60.04 L464.10,61.60 L464.51,62.55 L464.94,63.52 L465.39,64.47 L465.84,65.35 L466.29,66.12 L466.74,66.74 L467.18,67.14 L467.60,67.30 L467.92,67.23 L468.23,67.00 L468.53,66.65 L468.83,66.20 L469.13,65.69 L469.42,65.13 L469.71,64.56 L470.00,64.00 L470.44,63.10 L470.88,62.09 L471.31,60.99 L471.73,59.82 L472.14,58.60 L472.54,57.36 L472.93,56.12 L473.30,54.90 L473.68,53.55 L474.02,52.12 L474.35,50.65 L474.67,49.17 L474.98,47.73 L475.31,46.36 L475.64,45.10 L476.00,44.00 L476.24,43.34 L476.47,42.67 L476.71,42.01 L476.95,41.40 L477.20,40.86 L477.46,40.43 L477.72,40.13 L478.00,40.00 L478.24,40.03 L478.49,40.17 L478.75,40.39 L479.02,40.69 L479.28,41.04 L479.54,41.42 L479.78,41.81 L480.00,42.20 L480.29,42.79 L480.56,43.43 L480.79,44.12 L481.01,44.88 L481.21,45.69 L481.41,46.56 L481.60,47.50 L481.80,48.50 L482.15,50.59 L482.48,53.05 L482.79,55.78 L483.08,58.68 L483.36,61.65 L483.64,64.59 L483.91,67.41 L484.20,70.00 L484.44,72.00 L484.67,73.94 L484.90,75.82 L485.13,77.67 L485.36,79.50 L485.59,81.32 L485.84,83.15 L486.10,85.00 L486.38,86.86 L486.69,88.70 L487.01,90.53 L487.34,92.36 L487.66,94.21 L487.97,96.09 L488.25,98.02 L488.50,100.00 L488.74,102.41 L488.92,104.95 L489.08,107.59 L489.22,110.25 L489.35,112.88 L489.50,115.42 L489.68,117.81 L489.90,120.00 L490.09,121.42 L490.29,122.75 L490.50,124.01 L490.72,125.22 L490.94,126.40 L491.17,127.58 L491.39,128.77 L491.60,130.00 L491.79,131.25 L491.96,132.51 L492.12,133.76 L492.28,135.02 L492.45,136.27 L492.66,137.52 L492.90,138.76 L493.20,140.00 L493.57,141.29 L493.99,142.59 L494.46,143.91 L494.95,145.22 L495.47,146.50 L495.99,147.73 L496.50,148.90 L497.00,150.00 L497.37,150.78 L497.73,151.52 L498.10,152.22 L498.46,152.89 L498.83,153.55 L499.21,154.20 L499.60,154.85 L500.00,155.50 L500.41,156.15 L500.83,156.80 L501.26,157.44 L501.70,158.07 L502.14,158.70 L502.59,159.31 L503.05,159.91 L503.50,160.50 L503.92,161.03 L504.34,161.55 L504.76,162.05 L505.18,162.55 L505.62,163.03 L506.06,163.52 L506.52,164.01 L507.00,164.50 L507.54,165.05 L508.08,165.61 L508.64,166.16 L509.22,166.72 L509.81,167.27 L510.44,167.80 L511.10,168.31 L511.80,168.80 L512.69,169.35 L513.63,169.87 L514.63,170.37 L515.66,170.85 L516.73,171.31 L517.81,171.76 L518.90,172.19 L520.00,172.60 L521.18,173.02 L522.36,173.42 L523.56,173.79 L524.78,174.15 L526.03,174.49 L527.31,174.83 L528.63,175.16 L530.00,175.50 L531.72,175.92 L533.45,176.33 L535.23,176.73 L537.07,177.12 L538.99,177.51 L541.00,177.89 L543.13,178.25 L545.40,178.60 L549.19,179.10 L553.37,179.56 L557.85,179.99 L562.54,180.40 L567.35,180.79 L572.19,181.19 L576.97,181.59 L581.60,182.00" stroke="#3850a6"/>
</g>
<rect x="346.8" y="22.9" width="234.80" height="173.60" fill="none" stroke="#000" stroke-width="1.25"/>
<line x1="368.15" y1="196.5" x2="368.15" y2="194.5" stroke="#000" stroke-width="1.3"/>
<line x1="389.49" y1="196.5" x2="389.49" y2="192.5" stroke="#000" stroke-width="1.3"/>
<line x1="410.84" y1="196.5" x2="410.84" y2="194.5" stroke="#000" stroke-width="1.3"/>
<line x1="432.18" y1="196.5" x2="432.18" y2="192.5" stroke="#000" stroke-width="1.3"/>
<line x1="453.53" y1="196.5" x2="453.53" y2="194.5" stroke="#000" stroke-width="1.3"/>
<line x1="474.87" y1="196.5" x2="474.87" y2="192.5" stroke="#000" stroke-width="1.3"/>
<line x1="496.22" y1="196.5" x2="496.22" y2="194.5" stroke="#000" stroke-width="1.3"/>
<line x1="517.56" y1="196.5" x2="517.56" y2="192.5" stroke="#000" stroke-width="1.3"/>
<line x1="538.91" y1="196.5" x2="538.91" y2="194.5" stroke="#000" stroke-width="1.3"/>
<line x1="560.25" y1="196.5" x2="560.25" y2="192.5" stroke="#000" stroke-width="1.3"/>
<line x1="346.8" y1="182.20" x2="350.8" y2="182.20" stroke="#000" stroke-width="1.3"/>
<line x1="346.8" y1="167.71" x2="348.8" y2="167.71" stroke="#000" stroke-width="1.3"/>
<line x1="346.8" y1="153.22" x2="350.8" y2="153.22" stroke="#000" stroke-width="1.3"/>
<line x1="346.8" y1="138.73" x2="348.8" y2="138.73" stroke="#000" stroke-width="1.3"/>
<line x1="346.8" y1="124.24" x2="350.8" y2="124.24" stroke="#000" stroke-width="1.3"/>
<line x1="346.8" y1="109.75" x2="348.8" y2="109.75" stroke="#000" stroke-width="1.3"/>
<line x1="346.8" y1="95.26" x2="350.8" y2="95.26" stroke="#000" stroke-width="1.3"/>
<line x1="346.8" y1="80.77" x2="348.8" y2="80.77" stroke="#000" stroke-width="1.3"/>
<line x1="346.8" y1="66.28" x2="350.8" y2="66.28" stroke="#000" stroke-width="1.3"/>
<line x1="346.8" y1="51.79" x2="348.8" y2="51.79" stroke="#000" stroke-width="1.3"/>
<line x1="346.8" y1="37.30" x2="350.8" y2="37.30" stroke="#000" stroke-width="1.3"/>
<text x="345.80" y="212.6" text-anchor="middle" font-size="14">300</text>
<text x="388.49" y="212.6" text-anchor="middle" font-size="14">400</text>
<text x="431.18" y="212.6" text-anchor="middle" font-size="14">500</text>
<text x="473.87" y="212.6" text-anchor="middle" font-size="14">600</text>
<text x="516.56" y="212.6" text-anchor="middle" font-size="14">700</text>
<text x="559.25" y="212.6" text-anchor="middle" font-size="14">800</text>
<text x="341.30" y="187.50" text-anchor="end" font-size="14">0</text>
<text x="341.30" y="158.52" text-anchor="end" font-size="14">0.2</text>
<text x="341.30" y="129.54" text-anchor="end" font-size="14">0.4</text>
<text x="341.30" y="100.56" text-anchor="end" font-size="14">0.6</text>
<text x="341.30" y="71.58" text-anchor="end" font-size="14">0.8</text>
<text x="341.30" y="42.60" text-anchor="end" font-size="14">1.0</text>
<text x="463.90" y="237.2" text-anchor="middle" font-size="14.3">Wavelength (nm)</text>
<text transform="translate(313.60,107.70) rotate(-90)" text-anchor="middle" font-size="14" letter-spacing="0.35">Normalized absorbance</text>
<text transform="translate(297,17.6) scale(1.0,1)" font-size="21" font-weight="bold">b</text>
<text x="363.3" y="46.4" font-size="14.5">PTTBTz-F</text>
<line x1="488.70" y1="37.30" x2="507.70" y2="37.30" stroke="#111111" stroke-width="1.6"/>
<text x="510.70" y="41.10" font-size="10.5">Solution</text>
<line x1="488.70" y1="53.50" x2="507.70" y2="53.50" stroke="#e6302a" stroke-width="1.6"/>
<text x="510.70" y="57.30" font-size="10.5">As-casted film</text>
<line x1="488.70" y1="69.70" x2="507.70" y2="69.70" stroke="#3850a6" stroke-width="1.6"/>
<text x="510.70" y="73.50" font-size="10.5">Annealed film</text>
<clipPath id="clipc"><rect x="644.4" y="21.3" width="236.39999999999998" height="172.5"/></clipPath>
<g clip-path="url(#clipc)" fill="none" stroke-width="1.8" stroke-linejoin="round" stroke-linecap="round">
<path d="M644.60,151.50 L644.97,151.28 L645.33,151.06 L645.70,150.84 L646.06,150.62 L646.43,150.40 L646.80,150.19 L647.19,149.99 L647.60,149.80 L648.09,149.58 L648.60,149.34 L649.13,149.09 L649.67,148.86 L650.22,148.67 L650.76,148.53 L651.29,148.47 L651.80,148.50 L652.32,148.63 L652.84,148.85 L653.35,149.15 L653.85,149.50 L654.35,149.92 L654.84,150.38 L655.32,150.88 L655.80,151.40 L656.48,152.28 L657.12,153.35 L657.75,154.54 L658.37,155.81 L658.99,157.09 L659.63,158.33 L660.30,159.49 L661.00,160.50 L661.60,161.25 L662.20,161.98 L662.82,162.68 L663.44,163.34 L664.09,163.95 L664.76,164.50 L665.46,164.99 L666.20,165.40 L666.95,165.73 L667.73,165.98 L668.54,166.17 L669.37,166.31 L670.22,166.40 L671.10,166.46 L671.99,166.49 L672.90,166.50 L674.06,166.49 L675.29,166.43 L676.57,166.32 L677.86,166.16 L679.16,165.96 L680.43,165.70 L681.65,165.38 L682.80,165.00 L683.79,164.59 L684.74,164.11 L685.66,163.59 L686.54,163.01 L687.42,162.41 L688.28,161.78 L689.14,161.14 L690.00,160.50 L690.90,159.81 L691.79,159.10 L692.68,158.35 L693.56,157.59 L694.42,156.82 L695.29,156.04 L696.15,155.27 L697.00,154.50 L697.83,153.76 L698.66,153.03 L699.49,152.30 L700.31,151.56 L701.12,150.82 L701.93,150.06 L702.72,149.29 L703.50,148.50 L704.29,147.67 L705.07,146.83 L705.84,145.97 L706.60,145.09 L707.35,144.21 L708.08,143.31 L708.80,142.41 L709.50,141.50 L710.18,140.59 L710.84,139.68 L711.49,138.75 L712.12,137.82 L712.74,136.88 L713.34,135.93 L713.93,134.97 L714.50,134.00 L715.05,133.03 L715.59,132.05 L716.10,131.06 L716.61,130.06 L717.10,129.06 L717.58,128.05 L718.04,127.03 L718.50,126.00 L718.95,124.95 L719.38,123.88 L719.80,122.81 L720.21,121.73 L720.61,120.64 L721.01,119.56 L721.40,118.48 L721.80,117.40 L722.19,116.35 L722.58,115.30 L722.96,114.26 L723.34,113.22 L723.71,112.17 L724.08,111.12 L724.44,110.07 L724.80,109.00 L725.16,107.88 L725.50,106.75 L725.84,105.60 L726.17,104.44 L726.50,103.30 L726.83,102.17 L727.16,101.06 L727.50,100.00 L727.80,99.10 L728.09,98.23 L728.39,97.38 L728.68,96.55 L728.98,95.72 L729.28,94.89 L729.59,94.05 L729.90,93.20 L730.23,92.30 L730.58,91.40 L730.94,90.49 L731.30,89.58 L731.65,88.67 L731.99,87.77 L732.31,86.87 L732.60,86.00 L732.84,85.24 L733.06,84.51 L733.27,83.79 L733.47,83.07 L733.66,82.35 L733.84,81.60 L734.02,80.82 L734.20,80.00 L734.41,78.87 L734.60,77.67 L734.77,76.42 L734.93,75.14 L735.10,73.83 L735.30,72.53 L735.53,71.25 L735.80,70.00 L736.12,68.78 L736.49,67.56 L736.88,66.34 L737.30,65.13 L737.73,63.93 L738.16,62.76 L738.59,61.61 L739.00,60.50 L739.34,59.54 L739.67,58.57 L740.00,57.60 L740.33,56.65 L740.66,55.75 L741.02,54.91 L741.39,54.15 L741.80,53.50 L742.09,53.10 L742.38,52.72 L742.69,52.36 L743.01,52.03 L743.33,51.75 L743.65,51.53 L743.98,51.37 L744.30,51.30 L744.61,51.35 L744.92,51.51 L745.23,51.75 L745.55,52.04 L745.87,52.32 L746.18,52.57 L746.49,52.74 L746.80,52.80 L747.11,52.74 L747.42,52.61 L747.74,52.42 L748.05,52.18 L748.35,51.91 L748.65,51.61 L748.93,51.30 L749.20,51.00 L749.49,50.64 L749.77,50.25 L750.02,49.83 L750.26,49.39 L750.50,48.93 L750.73,48.44 L750.96,47.93 L751.20,47.40 L751.53,46.59 L751.84,45.69 L752.15,44.71 L752.46,43.71 L752.77,42.70 L753.07,41.73 L753.38,40.82 L753.70,40.00 L753.93,39.45 L754.15,38.91 L754.37,38.39 L754.60,37.89 L754.83,37.43 L755.07,37.00 L755.33,36.62 L755.60,36.30 L755.81,36.10 L756.03,35.90 L756.26,35.72 L756.49,35.57 L756.73,35.44 L756.96,35.35 L757.18,35.30 L757.40,35.30 L757.62,35.36 L757.83,35.47 L758.05,35.62 L758.26,35.81 L758.46,36.03 L758.65,36.28 L758.83,36.54 L759.00,36.80 L759.21,37.19 L759.39,37.60 L759.55,38.06 L759.69,38.55 L759.83,39.09 L759.95,39.67 L760.07,40.31 L760.20,41.00 L760.46,42.75 L760.67,44.92 L760.87,47.38 L761.04,50.02 L761.21,52.71 L761.39,55.35 L761.58,57.82 L761.80,60.00 L761.97,61.40 L762.15,62.73 L762.32,63.99 L762.51,65.20 L762.70,66.39 L762.89,67.58 L763.09,68.77 L763.30,70.00 L763.52,71.21 L763.75,72.34 L763.99,73.45 L764.23,74.58 L764.47,75.75 L764.72,77.02 L764.96,78.43 L765.20,80.00 L765.67,83.90 L766.14,88.74 L766.61,94.21 L767.08,100.00 L767.54,105.78 L767.98,111.25 L768.40,116.10 L768.80,120.00 L768.98,121.55 L769.14,122.89 L769.29,124.09 L769.44,125.20 L769.60,126.29 L769.77,127.41 L769.97,128.63 L770.20,130.00 L770.58,132.26 L771.01,134.73 L771.47,137.36 L771.98,140.09 L772.52,142.85 L773.08,145.58 L773.68,148.22 L774.30,150.70 L774.86,152.80 L775.44,154.86 L776.05,156.90 L776.67,158.89 L777.33,160.83 L778.01,162.72 L778.74,164.55 L779.50,166.30 L780.16,167.79 L780.82,169.30 L781.48,170.78 L782.18,172.21 L782.93,173.55 L783.75,174.77 L784.67,175.83 L785.70,176.70 L786.75,177.31 L787.86,177.74 L789.04,178.02 L790.29,178.20 L791.61,178.31 L793.02,178.39 L794.51,178.47 L796.10,178.60 L798.95,178.81 L802.08,178.94 L805.46,179.00 L809.06,179.02 L812.84,179.01 L816.78,178.99 L820.84,178.98 L825.00,179.00 L831.07,179.06 L837.59,179.11 L844.47,179.16 L851.58,179.21 L858.84,179.26 L866.13,179.30 L873.35,179.35 L880.40,179.40" stroke="#111111"/>
<path d="M644.60,157.00 L645.35,156.28 L646.11,155.47 L646.86,154.63 L647.62,153.80 L648.37,153.05 L649.12,152.42 L649.87,151.99 L650.60,151.80 L651.23,151.85 L651.86,152.05 L652.49,152.39 L653.11,152.82 L653.73,153.33 L654.33,153.88 L654.92,154.45 L655.50,155.00 L656.14,155.68 L656.74,156.46 L657.32,157.29 L657.88,158.17 L658.45,159.05 L659.03,159.92 L659.64,160.75 L660.30,161.50 L660.98,162.20 L661.70,162.90 L662.44,163.59 L663.19,164.25 L663.96,164.87 L664.72,165.41 L665.47,165.86 L666.20,166.20 L666.72,166.38 L667.23,166.50 L667.72,166.57 L668.21,166.60 L668.72,166.61 L669.25,166.58 L669.80,166.54 L670.40,166.50 L671.38,166.41 L672.44,166.28 L673.57,166.11 L674.75,165.89 L675.95,165.62 L677.16,165.30 L678.35,164.93 L679.50,164.50 L680.78,163.93 L682.08,163.26 L683.38,162.51 L684.67,161.70 L685.95,160.85 L687.20,159.97 L688.42,159.08 L689.60,158.20 L690.68,157.36 L691.73,156.50 L692.76,155.62 L693.76,154.73 L694.74,153.81 L695.70,152.89 L696.66,151.95 L697.60,151.00 L698.53,150.06 L699.45,149.13 L700.36,148.19 L701.25,147.23 L702.12,146.25 L702.97,145.22 L703.80,144.14 L704.60,143.00 L705.50,141.56 L706.37,140.01 L707.20,138.39 L708.01,136.71 L708.79,135.01 L709.55,133.30 L710.28,131.62 L711.00,130.00 L711.64,128.53 L712.26,127.06 L712.85,125.59 L713.43,124.13 L713.99,122.69 L714.54,121.27 L715.07,119.87 L715.60,118.50 L716.06,117.32 L716.50,116.17 L716.93,115.04 L717.35,113.92 L717.76,112.82 L718.17,111.72 L718.59,110.61 L719.00,109.50 L719.41,108.41 L719.82,107.34 L720.23,106.27 L720.63,105.21 L721.03,104.13 L721.43,103.05 L721.82,101.94 L722.20,100.80 L722.60,99.53 L722.99,98.27 L723.36,96.99 L723.73,95.69 L724.10,94.35 L724.48,92.96 L724.88,91.52 L725.30,90.00 L725.90,87.77 L726.50,85.35 L727.12,82.80 L727.77,80.17 L728.46,77.52 L729.18,74.90 L729.96,72.38 L730.80,70.00 L731.63,67.97 L732.54,66.01 L733.49,64.10 L734.48,62.23 L735.48,60.38 L736.46,58.55 L737.41,56.73 L738.30,54.90 L739.09,53.16 L739.88,51.36 L740.65,49.55 L741.41,47.77 L742.14,46.04 L742.83,44.42 L743.49,42.92 L744.10,41.60 L744.44,40.89 L744.75,40.21 L745.05,39.57 L745.34,38.97 L745.62,38.41 L745.90,37.89 L746.20,37.42 L746.50,37.00 L746.70,36.74 L746.91,36.48 L747.11,36.24 L747.31,36.02 L747.52,35.83 L747.74,35.68 L747.96,35.56 L748.20,35.50 L748.47,35.49 L748.75,35.54 L749.05,35.63 L749.35,35.76 L749.66,35.92 L749.95,36.11 L750.24,36.30 L750.50,36.50 L750.77,36.73 L751.03,36.98 L751.28,37.25 L751.51,37.55 L751.74,37.87 L751.96,38.22 L752.18,38.59 L752.40,39.00 L752.75,39.73 L753.08,40.56 L753.39,41.48 L753.70,42.45 L754.01,43.47 L754.30,44.52 L754.60,45.57 L754.90,46.60 L755.23,47.81 L755.54,49.09 L755.84,50.41 L756.14,51.74 L756.45,53.06 L756.77,54.33 L757.12,55.52 L757.50,56.60 L757.80,57.34 L758.11,58.07 L758.44,58.76 L758.77,59.42 L759.11,60.04 L759.47,60.61 L759.83,61.13 L760.20,61.60 L760.47,61.91 L760.76,62.21 L761.04,62.49 L761.34,62.75 L761.63,62.97 L761.93,63.14 L762.22,63.25 L762.50,63.30 L762.75,63.27 L763.00,63.16 L763.25,63.01 L763.50,62.81 L763.75,62.60 L764.00,62.38 L764.25,62.18 L764.50,62.00 L764.76,61.83 L765.02,61.63 L765.29,61.43 L765.55,61.24 L765.82,61.06 L766.08,60.92 L766.34,60.83 L766.60,60.80 L766.84,60.83 L767.09,60.91 L767.33,61.03 L767.57,61.18 L767.81,61.36 L768.04,61.56 L768.27,61.78 L768.50,62.00 L768.81,62.33 L769.10,62.69 L769.39,63.09 L769.67,63.53 L769.95,64.00 L770.23,64.52 L770.51,65.09 L770.80,65.70 L771.34,66.97 L771.89,68.42 L772.45,70.02 L773.01,71.77 L773.56,73.66 L774.12,75.67 L774.66,77.78 L775.20,80.00 L776.08,84.20 L776.98,89.19 L777.86,94.68 L778.73,100.39 L779.58,106.06 L780.38,111.40 L781.12,116.14 L781.80,120.00 L782.11,121.56 L782.38,122.92 L782.65,124.14 L782.90,125.27 L783.15,126.36 L783.41,127.48 L783.69,128.68 L784.00,130.00 L784.41,131.90 L784.83,133.93 L785.26,136.05 L785.71,138.23 L786.20,140.42 L786.73,142.57 L787.33,144.64 L788.00,146.60 L788.66,148.30 L789.35,149.98 L790.08,151.63 L790.86,153.24 L791.68,154.80 L792.56,156.28 L793.50,157.69 L794.50,159.00 L795.47,160.11 L796.50,161.14 L797.58,162.10 L798.70,163.01 L799.86,163.88 L801.05,164.71 L802.26,165.51 L803.50,166.30 L804.84,167.12 L806.23,167.91 L807.67,168.68 L809.14,169.41 L810.62,170.10 L812.10,170.73 L813.56,171.30 L815.00,171.80 L816.23,172.17 L817.41,172.47 L818.57,172.71 L819.73,172.92 L820.93,173.10 L822.18,173.28 L823.53,173.47 L825.00,173.70 L827.57,174.11 L830.39,174.54 L833.43,174.99 L836.63,175.44 L839.94,175.89 L843.31,176.32 L846.68,176.73 L850.00,177.10 L853.65,177.47 L857.39,177.80 L861.18,178.10 L865.01,178.39 L868.87,178.66 L872.73,178.93 L876.58,179.21 L880.40,179.50" stroke="#e6302a"/>
<path d="M644.60,156.00 L644.95,155.38 L645.29,154.75 L645.62,154.10 L645.95,153.46 L646.30,152.83 L646.67,152.24 L647.06,151.69 L647.50,151.20 L647.94,150.78 L648.41,150.35 L648.91,149.94 L649.42,149.57 L649.95,149.25 L650.47,149.00 L650.99,148.85 L651.50,148.80 L652.01,148.87 L652.51,149.05 L653.02,149.32 L653.53,149.66 L654.03,150.07 L654.53,150.52 L655.02,151.00 L655.50,151.50 L656.17,152.30 L656.83,153.26 L657.47,154.33 L658.11,155.46 L658.73,156.62 L659.36,157.76 L659.98,158.83 L660.60,159.80 L661.09,160.54 L661.56,161.29 L662.01,162.03 L662.47,162.74 L662.95,163.41 L663.45,164.00 L664.00,164.50 L664.60,164.90 L665.22,165.17 L665.88,165.35 L666.58,165.45 L667.30,165.49 L668.05,165.48 L668.82,165.44 L669.60,165.37 L670.40,165.30 L671.45,165.18 L672.55,165.02 L673.69,164.80 L674.85,164.54 L676.03,164.22 L677.21,163.86 L678.37,163.45 L679.50,163.00 L680.72,162.43 L681.94,161.78 L683.15,161.07 L684.36,160.30 L685.55,159.50 L686.73,158.67 L687.88,157.83 L689.00,157.00 L690.07,156.19 L691.11,155.35 L692.13,154.50 L693.14,153.63 L694.13,152.75 L695.10,151.85 L696.06,150.93 L697.00,150.00 L697.93,149.07 L698.85,148.14 L699.76,147.20 L700.65,146.24 L701.52,145.25 L702.37,144.23 L703.20,143.14 L704.00,142.00 L704.91,140.56 L705.79,139.01 L706.64,137.39 L707.47,135.71 L708.27,134.01 L709.04,132.30 L709.78,130.63 L710.50,129.00 L711.14,127.53 L711.74,126.06 L712.32,124.59 L712.88,123.13 L713.43,121.69 L713.96,120.27 L714.48,118.87 L715.00,117.50 L715.45,116.32 L715.89,115.17 L716.32,114.04 L716.75,112.92 L717.16,111.81 L717.58,110.71 L717.99,109.61 L718.40,108.50 L718.80,107.43 L719.19,106.38 L719.57,105.33 L719.95,104.28 L720.34,103.23 L720.72,102.17 L721.11,101.10 L721.50,100.00 L721.93,98.81 L722.35,97.64 L722.77,96.47 L723.20,95.27 L723.63,94.05 L724.08,92.77 L724.53,91.42 L725.00,90.00 L725.67,87.81 L726.36,85.41 L727.06,82.86 L727.78,80.23 L728.53,77.56 L729.31,74.93 L730.13,72.39 L731.00,70.00 L731.83,67.98 L732.72,66.02 L733.65,64.11 L734.61,62.23 L735.56,60.38 L736.51,58.55 L737.43,56.73 L738.30,54.90 L739.09,53.16 L739.87,51.36 L740.64,49.55 L741.40,47.77 L742.13,46.04 L742.83,44.41 L743.49,42.92 L744.10,41.60 L744.44,40.89 L744.75,40.21 L745.05,39.58 L745.34,38.99 L745.63,38.43 L745.91,37.92 L746.20,37.44 L746.50,37.00 L746.71,36.72 L746.91,36.44 L747.11,36.17 L747.31,35.93 L747.52,35.71 L747.73,35.53 L747.96,35.39 L748.20,35.30 L748.46,35.27 L748.74,35.29 L749.04,35.35 L749.34,35.45 L749.64,35.57 L749.94,35.71 L750.23,35.86 L750.50,36.00 L750.76,36.14 L751.02,36.29 L751.27,36.45 L751.51,36.63 L751.75,36.82 L751.97,37.03 L752.19,37.25 L752.40,37.50 L752.64,37.84 L752.86,38.23 L753.06,38.64 L753.25,39.07 L753.43,39.53 L753.61,40.01 L753.80,40.50 L754.00,41.00 L754.26,41.66 L754.52,42.36 L754.78,43.09 L755.04,43.85 L755.31,44.62 L755.59,45.41 L755.89,46.20 L756.20,47.00 L756.59,47.99 L757.01,49.08 L757.45,50.20 L757.91,51.33 L758.37,52.42 L758.85,53.42 L759.32,54.30 L759.80,55.00 L760.07,55.33 L760.34,55.62 L760.61,55.89 L760.88,56.13 L761.16,56.33 L761.44,56.49 L761.72,56.62 L762.00,56.70 L762.24,56.73 L762.48,56.71 L762.72,56.66 L762.96,56.59 L763.21,56.49 L763.46,56.39 L763.73,56.29 L764.00,56.20 L764.39,56.06 L764.81,55.87 L765.26,55.65 L765.71,55.44 L766.16,55.24 L766.60,55.09 L767.02,55.00 L767.40,55.00 L767.70,55.07 L767.98,55.19 L768.26,55.35 L768.52,55.54 L768.77,55.76 L769.02,55.99 L769.26,56.24 L769.50,56.50 L769.79,56.82 L770.07,57.15 L770.34,57.50 L770.60,57.88 L770.86,58.30 L771.11,58.77 L771.36,59.30 L771.60,59.90 L772.13,61.54 L772.61,63.55 L773.06,65.87 L773.49,68.44 L773.91,71.20 L774.35,74.09 L774.81,77.04 L775.30,80.00 L776.07,84.53 L776.89,89.67 L777.76,95.18 L778.65,100.82 L779.54,106.37 L780.41,111.57 L781.24,116.19 L782.00,120.00 L782.36,121.56 L782.69,122.93 L783.02,124.15 L783.34,125.28 L783.67,126.38 L784.00,127.50 L784.34,128.68 L784.70,130.00 L785.16,131.84 L785.61,133.79 L786.06,135.83 L786.53,137.91 L787.03,140.01 L787.58,142.08 L788.20,144.09 L788.90,146.00 L789.62,147.76 L790.38,149.51 L791.19,151.24 L792.05,152.93 L792.97,154.57 L793.94,156.14 L794.98,157.62 L796.10,159.00 L797.20,160.19 L798.35,161.30 L799.55,162.34 L800.81,163.32 L802.13,164.24 L803.52,165.12 L804.97,165.97 L806.50,166.80 L808.49,167.77 L810.60,168.67 L812.83,169.51 L815.15,170.30 L817.55,171.03 L820.00,171.72 L822.49,172.38 L825.00,173.00 L827.91,173.65 L830.90,174.23 L833.96,174.74 L837.08,175.21 L840.25,175.63 L843.47,176.03 L846.72,176.42 L850.00,176.80 L853.65,177.20 L857.38,177.55 L861.17,177.87 L865.01,178.16 L868.86,178.44 L872.73,178.72 L876.58,179.00 L880.40,179.30" stroke="#3850a6"/>
</g>
<rect x="644.4" y="21.3" width="236.40" height="172.50" fill="none" stroke="#000" stroke-width="1.25"/>
<line x1="665.89" y1="193.8" x2="665.89" y2="191.8" stroke="#000" stroke-width="1.3"/>
<line x1="687.38" y1="193.8" x2="687.38" y2="189.8" stroke="#000" stroke-width="1.3"/>
<line x1="708.87" y1="193.8" x2="708.87" y2="191.8" stroke="#000" stroke-width="1.3"/>
<line x1="730.36" y1="193.8" x2="730.36" y2="189.8" stroke="#000" stroke-width="1.3"/>
<line x1="751.85" y1="193.8" x2="751.85" y2="191.8" stroke="#000" stroke-width="1.3"/>
<line x1="773.35" y1="193.8" x2="773.35" y2="189.8" stroke="#000" stroke-width="1.3"/>
<line x1="794.84" y1="193.8" x2="794.84" y2="191.8" stroke="#000" stroke-width="1.3"/>
<line x1="816.33" y1="193.8" x2="816.33" y2="189.8" stroke="#000" stroke-width="1.3"/>
<line x1="837.82" y1="193.8" x2="837.82" y2="191.8" stroke="#000" stroke-width="1.3"/>
<line x1="859.31" y1="193.8" x2="859.31" y2="189.8" stroke="#000" stroke-width="1.3"/>
<line x1="644.4" y1="179.00" x2="648.4" y2="179.00" stroke="#000" stroke-width="1.3"/>
<line x1="644.4" y1="164.66" x2="646.4" y2="164.66" stroke="#000" stroke-width="1.3"/>
<line x1="644.4" y1="150.32" x2="648.4" y2="150.32" stroke="#000" stroke-width="1.3"/>
<line x1="644.4" y1="135.98" x2="646.4" y2="135.98" stroke="#000" stroke-width="1.3"/>
<line x1="644.4" y1="121.64" x2="648.4" y2="121.64" stroke="#000" stroke-width="1.3"/>
<line x1="644.4" y1="107.30" x2="646.4" y2="107.30" stroke="#000" stroke-width="1.3"/>
<line x1="644.4" y1="92.96" x2="648.4" y2="92.96" stroke="#000" stroke-width="1.3"/>
<line x1="644.4" y1="78.62" x2="646.4" y2="78.62" stroke="#000" stroke-width="1.3"/>
<line x1="644.4" y1="64.28" x2="648.4" y2="64.28" stroke="#000" stroke-width="1.3"/>
<line x1="644.4" y1="49.94" x2="646.4" y2="49.94" stroke="#000" stroke-width="1.3"/>
<line x1="644.4" y1="35.60" x2="648.4" y2="35.60" stroke="#000" stroke-width="1.3"/>
<text x="646.40" y="212.6" text-anchor="middle" font-size="14">300</text>
<text x="689.38" y="212.6" text-anchor="middle" font-size="14">400</text>
<text x="732.36" y="212.6" text-anchor="middle" font-size="14">500</text>
<text x="775.35" y="212.6" text-anchor="middle" font-size="14">600</text>
<text x="818.33" y="212.6" text-anchor="middle" font-size="14">700</text>
<text x="861.31" y="212.6" text-anchor="middle" font-size="14">800</text>
<text x="640.90" y="184.30" text-anchor="end" font-size="14">0</text>
<text x="640.90" y="155.62" text-anchor="end" font-size="14">0.2</text>
<text x="640.90" y="126.94" text-anchor="end" font-size="14">0.4</text>
<text x="640.90" y="98.26" text-anchor="end" font-size="14">0.6</text>
<text x="640.90" y="69.58" text-anchor="end" font-size="14">0.8</text>
<text x="640.90" y="40.90" text-anchor="end" font-size="14">1.0</text>
<text x="763.70" y="237.2" text-anchor="middle" font-size="14.3">Wavelength (nm)</text>
<text transform="translate(613.20,107.35) rotate(-90)" text-anchor="middle" font-size="14" letter-spacing="0.35">Normalized absorbance</text>
<text transform="translate(605.6,17.2) scale(0.88,1)" font-size="21" font-weight="bold">c</text>
<text x="655.8000000000001" y="44.5" font-size="14.5">PTTBTz-OR</text>
<line x1="781.90" y1="37.30" x2="800.90" y2="37.30" stroke="#111111" stroke-width="1.6"/>
<text x="803.90" y="41.10" font-size="10.5">Solution</text>
<line x1="781.90" y1="53.45" x2="800.90" y2="53.45" stroke="#e6302a" stroke-width="1.6"/>
<text x="803.90" y="57.25" font-size="10.5">As-casted film</text>
<line x1="781.90" y1="69.60" x2="800.90" y2="69.60" stroke="#3850a6" stroke-width="1.6"/>
<text x="803.90" y="73.40" font-size="10.5">Annealed film</text>
</svg>
</body></html>
